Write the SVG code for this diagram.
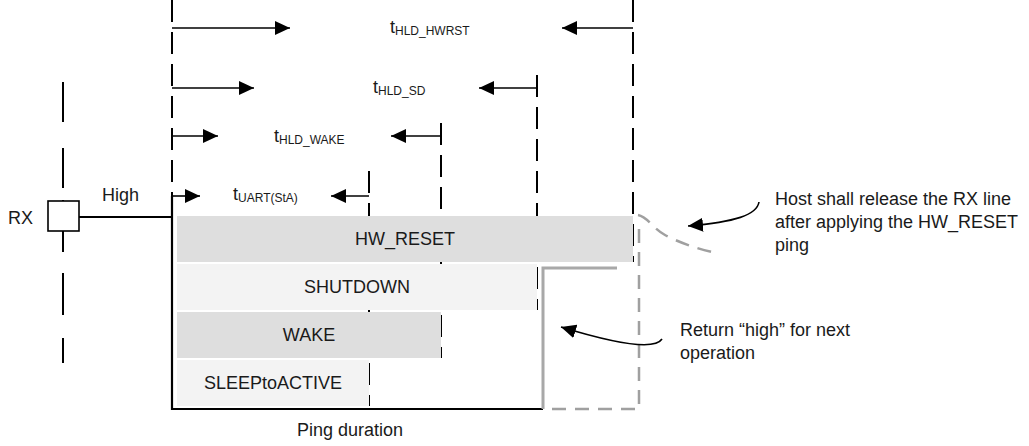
<svg xmlns="http://www.w3.org/2000/svg" width="1029" height="446" viewBox="0 0 1029 446">
<defs>
<style>
text{font-family:"Liberation Sans",Arial,sans-serif;font-size:18px;fill:#1a1a1a}
.sub{font-size:12px}
.c{text-anchor:middle}
.dash{stroke:#000;stroke-width:2;stroke-dasharray:22 10;fill:none}
.ln{stroke:#000;stroke-width:1.6;fill:none}
.gray{stroke:#a8a8a8;stroke-width:3;fill:none}
.gdash{stroke:#a0a0a0;stroke-width:2.5;stroke-dasharray:14 9;fill:none}
.dark{fill:#dedede}
.light{fill:#f3f3f3}
</style>
<marker id="ah" markerUnits="userSpaceOnUse" markerWidth="16" markerHeight="14" refX="15" refY="7" orient="auto">
<path d="M0,0 L15,7 L0,14 z" fill="#000"/>
</marker>
</defs>
<g id="guides">
<path class="dash" d="M172,0 V196"/>
<path class="dash" d="M633,0 V262"/>
<path class="dash" d="M537,75 V310"/>
<path class="dash" d="M441,123 V358"/>
<path class="dash" d="M369,171 V406"/>
<path d="M63,82 V122 M63,148 V188 M63,200 V252 M63,273 V315 M63,338 V363" stroke="#000" stroke-width="2" fill="none"/>
</g>
<g id="hw_reset"><rect class="dark" x="177" y="216" width="456" height="46"/><text class="c" x="405" y="245">HW_RESET</text></g>
<g id="shutdown"><rect class="light" x="177" y="264" width="360" height="46"/><text class="c" x="357" y="293">SHUTDOWN</text></g>
<g id="wake"><rect class="dark" x="177" y="312" width="264" height="46"/><text class="c" x="309" y="341">WAKE</text></g>
<g id="sleeptoactive"><rect class="light" x="177" y="360" width="192" height="46"/><text class="c" x="273" y="389">SLEEPtoACTIVE</text></g>
<g id="rx"><rect x="48" y="201" width="31" height="30" fill="#fff" stroke="#000" stroke-width="1.6"/><text x="8" y="224">RX</text></g>
<g id="labels">
<text x="102" y="201">High</text>
<text x="390" y="33">t<tspan class="sub" dy="2">HLD_HWRST</tspan></text>
<text x="373" y="93">t<tspan class="sub" dy="2">HLD_SD</tspan></text>
<text x="274" y="142">t<tspan class="sub" dy="2">HLD_WAKE</tspan></text>
<text x="233" y="200">t<tspan class="sub" dy="2">UART(StA)</tspan></text>
<text x="297" y="436">Ping duration</text>
<text x="775" y="205">Host shall release the RX line</text>
<text x="775" y="228">after applying the HW_RESET</text>
<text x="775" y="251">ping</text>
<text x="680" y="336">Return “high” for next</text>
<text x="680" y="359">operation</text>
</g>
<g id="connectors">
<path class="ln" d="M172,28 H290" marker-end="url(#ah)"/>
<path class="ln" d="M172,88 H254" marker-end="url(#ah)"/>
<path class="ln" d="M172,136 H218" marker-end="url(#ah)"/>
<path class="ln" d="M172,196 H200" marker-end="url(#ah)"/>
<path class="ln" d="M633,28 H562" marker-end="url(#ah)"/>
<path class="ln" d="M537,88 H479" marker-end="url(#ah)"/>
<path class="ln" d="M441,136 H391" marker-end="url(#ah)"/>
<path class="ln" d="M369,196 H331" marker-end="url(#ah)"/>
<path d="M79,217 H172 M172,196 V409 H543" stroke="#000" stroke-width="2.2" fill="none"/>
<path class="gray" d="M543,409 V268 H617"/>
<path class="gdash" d="M639,229 V409 H543"/>
<path class="gdash" d="M638,215 C648,217 652,228 665,235 S695,248 712,252"/>
<path class="ln" d="M759,202 C757,215 735,222 688,226" marker-end="url(#ah)"/>
<path class="ln" d="M662,339 C655,350 620,345 561,327" marker-end="url(#ah)"/>
</g>
</svg>
